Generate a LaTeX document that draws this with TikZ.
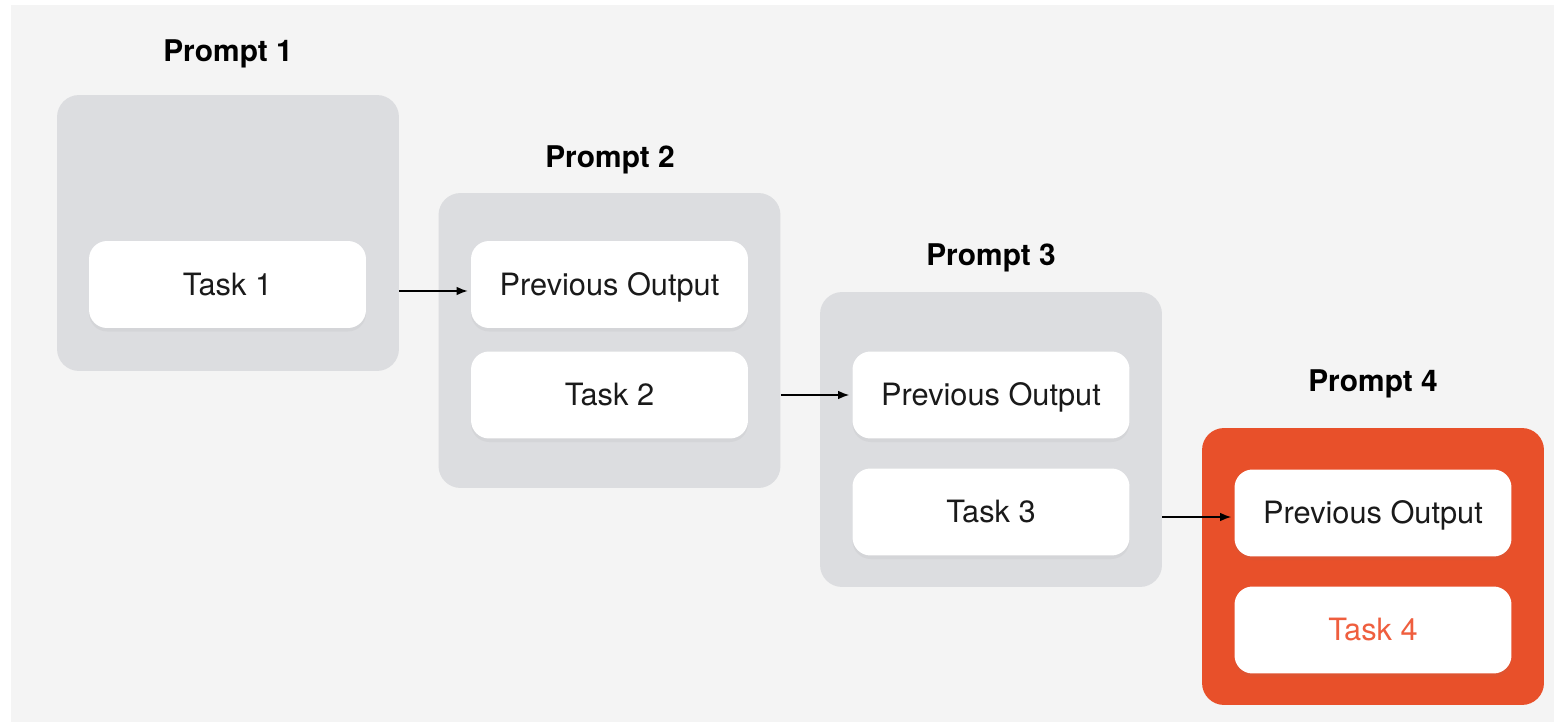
\documentclass[tikz,border=0pt]{standalone}
\usepackage{fontspec}
\setmainfont{TeX Gyre Heros}
\usetikzlibrary{arrows.meta,shadows}
\definecolor{pagebg}{HTML}{F4F4F4}
\definecolor{promptgray}{HTML}{DCDDE0}
\definecolor{promptorange}{HTML}{E8502A}
\definecolor{taskred}{HTML}{EF5E3E}
\definecolor{inktext}{HTML}{1A1A1A}
\begin{document}
\begin{tikzpicture}[x=0.02cm, y=-0.02cm,
  prompt/.style={rectangle, rounded corners=0.44cm, fill=promptgray, minimum width=6.84cm, inner sep=0pt},
  task/.style={rectangle, rounded corners=0.36cm, fill=white, minimum width=5.54cm, minimum height=1.74cm,
    inner sep=0pt, text=inktext, font=\fontsize{17.5}{21}\selectfont, text height=12.5pt, text depth=0pt,
    drop shadow={shadow xshift=0pt, shadow yshift=-2pt, opacity=0.08}},
  title/.style={anchor=base, text=black, font=\fontsize{17}{20}\selectfont\bfseries},
  arr/.style={-{Latex[length=0.22cm, width=0.17cm]}, line width=0.75pt, shorten >=0.06cm}]
\fill[white] (0,0) rectangle (1554,722);
\fill[pagebg] (11,5) rectangle (1554,722);
\useasboundingbox (0,0) rectangle (1554,722);

% prompt boxes
\node[prompt, minimum height=5.52cm] (p1) at (228,233){};
\node[prompt, minimum height=5.9cm] (p2) at (609.5,340.5){};
\node[prompt, minimum height=5.9cm] (p3) at (991,439.5){};
\node[prompt, minimum height=5.54cm, fill=promptorange] (p4) at (1373,566.5){};

\node[title] (h1) at (228,62){Prompt 1};
\node[title] (h2) at (610,168){Prompt 2};
\node[title] (h3) at (991,266){Prompt 3};
\node[title] (h4) at (1373,392){Prompt 4};

% tasks
\node[task] (t1) at (227.5,284.5){Task 1};
\node[task] (o2) at (609.5,284.5){Previous Output};
\node[task] (t2) at (609.5,395){Task 2};
\node[task] (o3) at (991,395){Previous Output};
\node[task] (t3) at (991,512){Task 3};
\node[task] (o4) at (1373,513){Previous Output};
\node[task, text=taskred] (t4) at (1373,630){Task 4};

\draw[arr]([yshift=-0.13cm]o2.west -| p1.east) -- ([yshift=-0.13cm]o2.west);
\draw[arr](o3.west -| p2.east) -- (o3.west);
\draw[arr]([yshift=-0.08cm]o4.west -| p3.east) -- ([yshift=-0.08cm]o4.west);

\end{tikzpicture}
\end{document}
